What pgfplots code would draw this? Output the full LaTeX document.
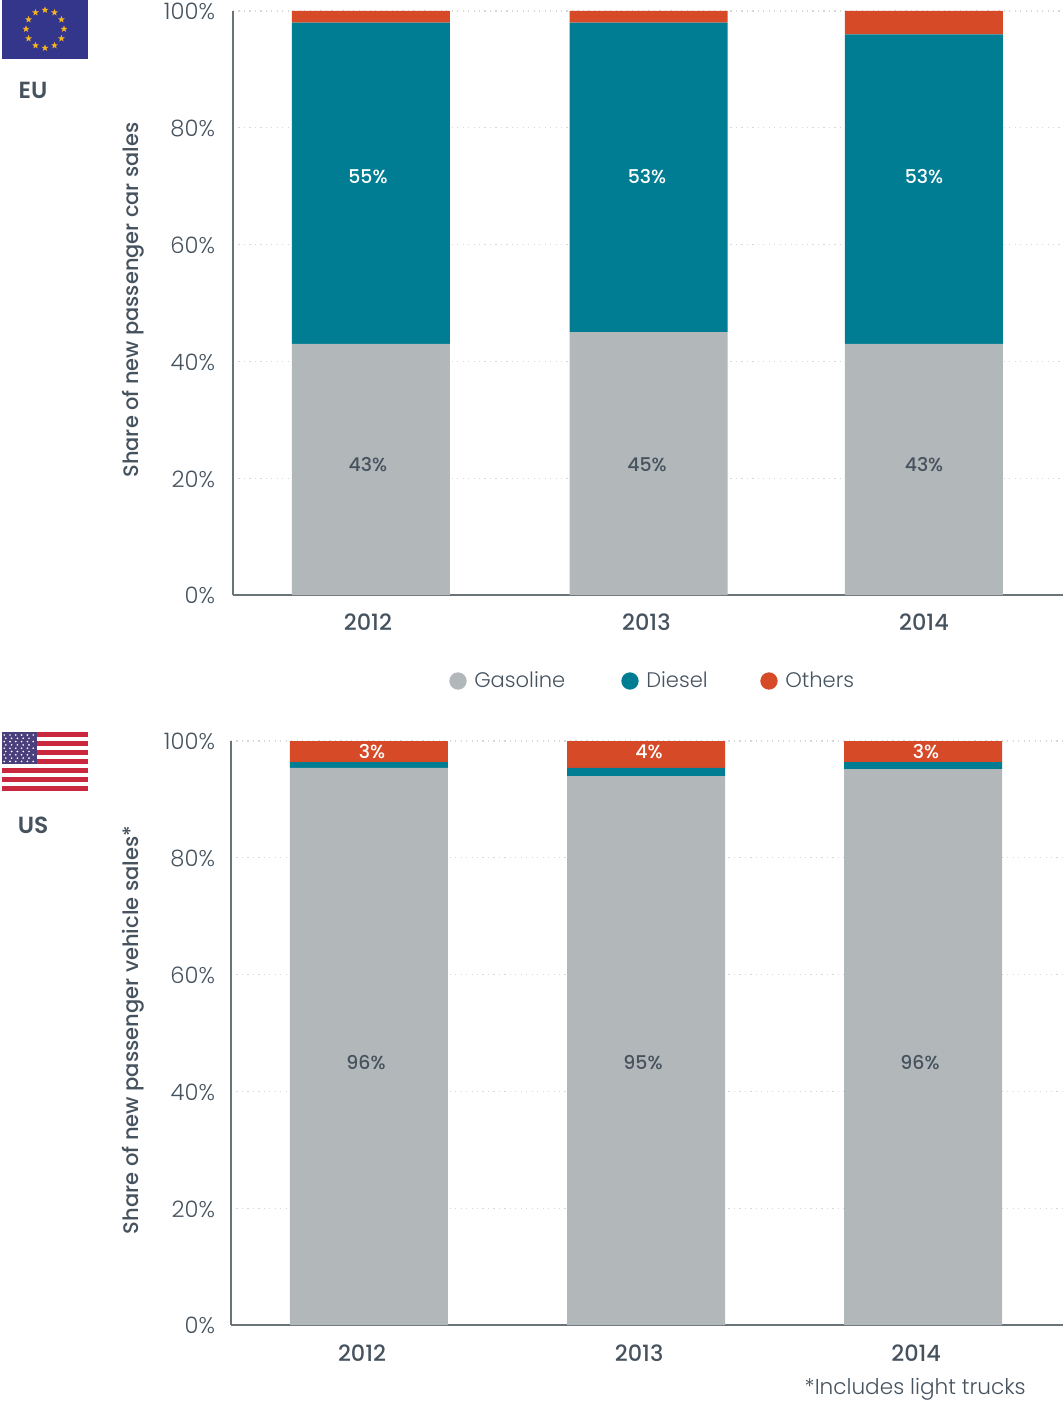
\documentclass[border=0pt]{standalone}
\usepackage{fontspec}
\usepackage{pgfplots}
\usepackage{pgfplotstable}
\pgfplotsset{compat=1.18}
\usetikzlibrary{shapes.geometric}
\setmainfont{Poppins Light}
\newfontfamily\medfont{Poppins Medium}
\newfontfamily\boldfont{Poppins SemiBold}
\definecolor{gas}{HTML}{B2B7B9}
\definecolor{dies}{HTML}{007D93}
\definecolor{oth}{HTML}{D64A28}
\definecolor{txt}{HTML}{46535F}
\definecolor{axln}{HTML}{6A7378}
\definecolor{eublue}{HTML}{34368C}
\definecolor{eustar}{HTML}{F6B51E}
\definecolor{usred}{HTML}{C9283E}
\definecolor{usblue}{HTML}{4A3F7B}

\pgfplotstableread{
x gasoline diesel others
0 43 55 2
1.004 45 53 2
2 43 53 4
}\eudata
\pgfplotstableread{
x gasoline diesel others
0 95.4 1.0 3.6
1 94.0 1.4 4.6
2 95.2 1.2 3.6
}\usdata

\pgfplotsset{
  sharestyle/.style={
    anchor=south west, scale only axis,
    height=438pt,
    ybar stacked, bar width=118.5pt,
    ymin=0, ymax=100,
    ytick={0,20,40,60,80,100},
    yticklabel={\pgfmathprintnumber{\tick}\%},
    /pgf/number format/assume math mode=true,
    axis x line=bottom, axis y line=left,
    axis line style={axln, line width=0.9pt, -},
    major tick length=0pt,
    ymajorgrids=true,
    grid style={gas!55, line width=0.8pt, dash pattern=on 0.9pt off 3.2pt},
    yticklabel style={font=\fontsize{17}{20}\selectfont, text=txt, xshift=-10pt, yshift=-0.6pt},
    xticklabel style={font=\fontsize{16.8}{20}\medfont, text=txt},
    xticklabels={2012,2013,2014},
  },
}

\begin{document}
\begin{tikzpicture}[x=0.75pt,y=-0.75pt]
\path[use as bounding box] (0,0) rectangle (1063,1401);

% EU panel
\begin{axis}[sharestyle, at={(174.75pt,-446.25pt)}, width=622.5pt,
  xmin=-0.499, xmax=2.503, xtick={-0.011,0.996,2},
  xticklabel style={yshift=-10.4pt}]
\addplot[fill=gas, draw=none] table[x=x,y=gasoline] {\eudata};
\addplot[fill=dies, draw=none] table[x=x,y=diesel] {\eudata};
\addplot[fill=oth, draw=none] table[x=x,y=others] {\eudata};
\end{axis}

% US panel
\begin{axis}[sharestyle, at={(173.25pt,-993.75pt)}, width=624pt,
  xmin=-0.498, xmax=2.505, xtick={-0.025,0.975,1.975},
  xticklabel style={yshift=-11.2pt},
  yticklabel style={xshift=1.5pt}]
\addplot[fill=gas, draw=none] table[x=x,y=gasoline] {\usdata};
\addplot[fill=dies, draw=none] table[x=x,y=diesel] {\usdata};
\addplot[fill=oth, draw=none] table[x=x,y=others] {\usdata};
\end{axis}

% value labels
\tikzset{val/.style={font=\fontsize{14.2}{17}\medfont, inner sep=0pt}}
\foreach \xx/\yy/\tt in {368/177/55,647/177/53,924/177/53,372/752/3,649/752/4,926/752/3}
  \node[val, text=white] at (\xx,\yy) {\tt\%};
\foreach \xx/\yy/\tt in {368/465/43,647/465/45,924/465/43,366/1063/96,643/1063/95,920/1063/96}
  \node[val, text=txt] at (\xx,\yy) {\tt\%};

% axis titles
\node[rotate=90, text=txt, inner sep=0pt, font=\fontsize{15.7}{18}\medfont] at (133,300) {Share of new passenger car sales};
\node[rotate=90, text=txt, inner sep=0pt, font=\fontsize{15.8}{18}\medfont] at (133,1030) {Share of new passenger vehicle sales*};

% legend
\foreach \xx/\cc/\tt in {458/gas/Gasoline,630/dies/Diesel,769/oth/Others}{
  \fill[\cc] (\xx,681) circle[radius=6.5pt];
  \node[anchor=west, text=txt, inner sep=0pt, font=\fontsize{15.8}{18}\selectfont] at (\xx+16,680) {\tt};
}

% footnote
\node[anchor=east, text=txt, inner sep=0pt, font=\fontsize{16.2}{18}\selectfont] at (1026,1389) {*Includes light trucks};

% EU flag
\fill[eublue] (2,0) rectangle (88,59);
\foreach \a in {0,30,...,330}
  \node[star, star points=5, star point ratio=2.4, fill=eustar, inner sep=0pt, minimum size=5.4pt] at ({45+19*cos(\a)},{29+19*sin(\a)}) {};
\node[text=txt, inner sep=0pt, font=\fontsize{17.5}{20}\boldfont] at (33,90) {EU};

% US flag
\fill[white] (2,732) rectangle (88,791);
\foreach \i in {0,2,...,12}
  \fill[usred] (2,{732+\i*59/13}) rectangle (88,{732+(\i+1)*59/13});
\fill[usblue] (2,732) rectangle (37,764);
\foreach \r in {0,...,8}{
  \pgfmathsetmacro{\shift}{mod(\r,2)==0 ? 0 : 1.6}
  \pgfmathtruncatemacro{\nn}{mod(\r,2)==0 ? 5 : 4}
  \foreach \c in {0,...,\nn}
    \fill[white] ({4.2+\shift+\c*5.8},{735+\r*3.3}) circle[radius=0.7pt];
}
\node[text=txt, inner sep=0pt, font=\fontsize{17.5}{20}\boldfont] at (33,825) {US};
\end{tikzpicture}
\end{document}
